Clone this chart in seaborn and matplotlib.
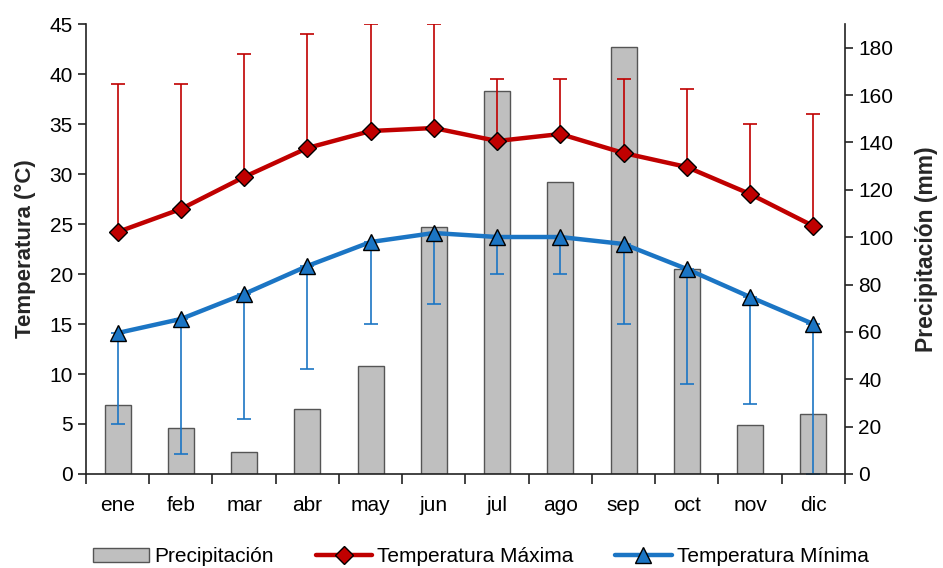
import numpy as np
import matplotlib
matplotlib.use("Agg")
import matplotlib.pyplot as plt
import seaborn as sns
from matplotlib.patches import Patch
from matplotlib.lines import Line2D

meses = ["ene", "feb", "mar", "abr", "may", "jun", "jul", "ago", "sep", "oct", "nov", "dic"]
precipitacion = [29, 19.3, 9.2, 27.4, 45.6, 104.2, 161.6, 123.5, 180.3, 86.7, 20.7, 25.2]
t_max = [24.2, 26.5, 29.7, 32.6, 34.3, 34.6, 33.3, 34.0, 32.1, 30.7, 28.0, 24.8]
t_max_abs = [39, 39, 42, 44, 45, 45, 39.5, 39.5, 39.5, 38.5, 35, 36]
t_min = [14.1, 15.5, 18.0, 20.8, 23.2, 24.1, 23.7, 23.7, 23.0, 20.5, 17.7, 15.0]
t_min_abs = [5, 2, 5.5, 10.5, 15, 17, 20, 20, 15, 9, 7, 0]

sns.set_style("ticks")
plt.rcParams['font.family'] = ['Liberation Sans', 'DejaVu Sans']
plt.rcParams['text.color'] = 'black'
plt.rcParams['xtick.color'] = '#222222'
plt.rcParams['ytick.color'] = '#222222'
plt.rcParams['xtick.labelcolor'] = 'black'
plt.rcParams['ytick.labelcolor'] = 'black'

rojo = "#C00000"
azul = "#1B75C4"
fs = 15

fig = plt.figure(figsize=(9.43, 5.68), dpi=100)
ax = fig.add_axes([0.0912, 0.1655, 0.8048, 0.7922])
ax2 = ax.twinx()

# barras de precipitacion (eje derecho)
sns.barplot(x=meses, y=precipitacion, ax=ax2, color="#BFBFBF", width=0.41,
            edgecolor="#555555", linewidth=1, saturation=1)
ax2.set_ylim(0, 190)
ax2.set_yticks(range(0, 181, 20))
ax2.set_ylabel("Precipitación (mm)", fontsize=16.5, fontweight="bold", labelpad=16)

# temperaturas (eje izquierdo, encima de las barras)
ax.set_zorder(ax2.get_zorder() + 1)
ax.patch.set_visible(False)
x = np.arange(len(meses))

up = np.array(t_max_abs) - np.array(t_max)
ax.errorbar(x, t_max, yerr=[np.zeros(12), up], fmt="none", ecolor=rojo,
            elinewidth=1.2, capsize=5, capthick=1.2)
down = np.array(t_min) - np.array(t_min_abs)
ax.errorbar(x, t_min, yerr=[down, np.zeros(12)], fmt="none", ecolor=azul,
            elinewidth=1.2, capsize=5, capthick=1.2)

sns.lineplot(x=x, y=t_max, ax=ax, color=rojo, linewidth=3.2, marker="D",
             markersize=9, markerfacecolor=rojo, markeredgecolor="black", markeredgewidth=1)
sns.lineplot(x=x, y=t_min, ax=ax, color=azul, linewidth=3.2, marker="^",
             markersize=11, markerfacecolor=azul, markeredgecolor="black", markeredgewidth=1)

ax.set_ylim(0, 45)
ax.set_xlim(-0.5, 11.5)
ax.set_yticks(range(0, 46, 5))
ax.set_ylabel("Temperatura (°C)", fontsize=16, fontweight="bold", labelpad=10)

ax.set_xticks(np.arange(-0.5, 12, 1))
ax.set_xticklabels([])
ax.set_xticks(x, minor=True)
ax.set_xticklabels(meses, minor=True)
ax.tick_params(axis="x", which="minor", length=0, pad=16, labelsize=fs)
ax.tick_params(axis="x", which="major", length=7, width=1.2, direction="out")
ax.tick_params(axis="y", length=6, width=1.2, labelsize=fs, direction="out")
ax2.tick_params(axis="y", length=6, width=1.2, labelsize=fs, direction="out")

for a in (ax, ax2):
    a.spines["top"].set_visible(False)
    for s in ("left", "right", "bottom"):
        a.spines[s].set_color("#222222")
        a.spines[s].set_linewidth(1.2)
ax.spines["right"].set_visible(False)
ax2.spines["left"].set_visible(False)
ax2.spines["bottom"].set_visible(False)
ax2.set_xlabel("")

handles = [
    Patch(facecolor="#BFBFBF", edgecolor="#555555", label="Precipitación"),
    Line2D([], [], color=rojo, lw=3.2, marker="D", markersize=9,
           markerfacecolor=rojo, markeredgecolor="black", label="Temperatura Máxima"),
    Line2D([], [], color=azul, lw=3.2, marker="^", markersize=11,
           markerfacecolor=azul, markeredgecolor="black", label="Temperatura Mínima"),
]
fig.legend(handles=handles, loc="lower center", ncol=3, frameon=False,
           bbox_to_anchor=(0.51, -0.03), fontsize=fs, handlelength=2.7,
           columnspacing=2.0, handletextpad=0.25)

fig.savefig("out.png", dpi=100)
